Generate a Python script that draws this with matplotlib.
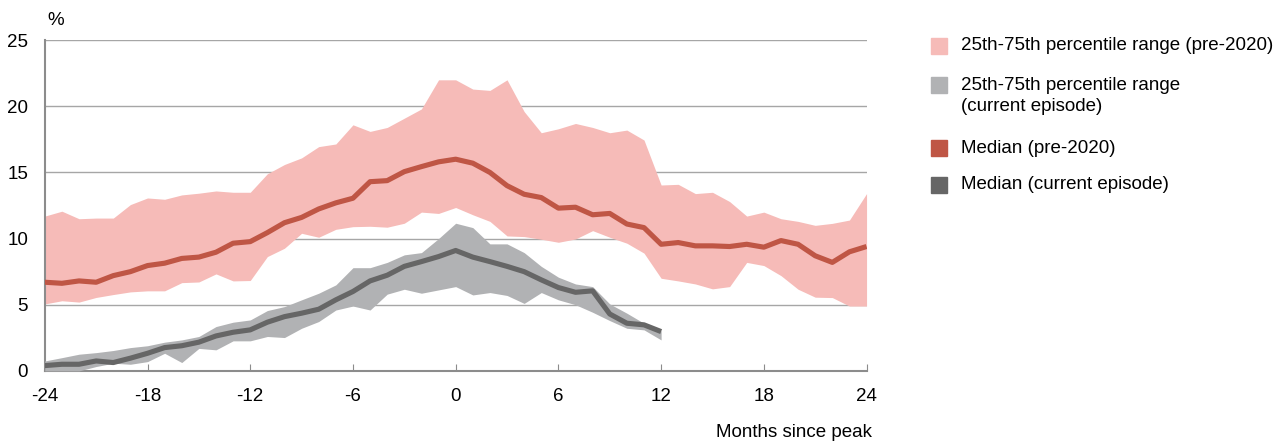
import matplotlib
matplotlib.use("Agg")
import matplotlib.pyplot as plt
from matplotlib.patches import Rectangle
import numpy as np

plt.rcParams['font.family'] = ['Liberation Sans', 'DejaVu Sans']
plt.rcParams['axes.unicode_minus'] = False

months = np.arange(-24, 25)
months_cur = np.arange(-24, 13)

# pre-2020 episodes: 25th / 75th percentile and median
pre_hi = [11.7, 12.07, 11.5, 11.55, 11.55, 12.57, 13.07, 12.97, 13.3, 13.43, 13.6, 13.5, 13.5,
          14.9, 15.6, 16.1, 16.95, 17.15, 18.6, 18.1, 18.4, 19.1, 19.8, 22.0, 22.0,
          21.3, 21.2, 22.0, 19.6, 18.0, 18.3, 18.7, 18.4, 18.0, 18.2, 17.45, 14.05,
          14.1, 13.4, 13.5, 12.8, 11.7, 12.0, 11.5, 11.3, 11.0, 11.15, 11.4, 13.4]
pre_lo = [5.06, 5.3, 5.2, 5.55, 5.77, 5.97, 6.05, 6.05, 6.67, 6.72, 7.33, 6.8, 6.83,
          8.64, 9.27, 10.4, 10.1, 10.7, 10.9, 10.93, 10.86, 11.16, 12.0, 11.9, 12.35,
          11.8, 11.3, 10.2, 10.15, 9.95, 9.72, 9.97, 10.6, 10.1, 9.65, 8.9, 7.0,
          6.8, 6.57, 6.2, 6.37, 8.2, 7.96, 7.2, 6.17, 5.57, 5.54, 4.9, 4.9]
pre_med = [6.7, 6.62, 6.8, 6.7, 7.2, 7.5, 7.96, 8.14, 8.5, 8.6, 8.97, 9.65, 9.77,
           10.45, 11.2, 11.6, 12.24, 12.7, 13.05, 14.3, 14.38, 15.06, 15.44, 15.8, 16.0,
           15.7, 15.0, 14.0, 13.35, 13.1, 12.3, 12.37, 11.8, 11.9, 11.1, 10.83, 9.57,
           9.7, 9.45, 9.45, 9.4, 9.57, 9.35, 9.85, 9.57, 8.7, 8.2, 9.0, 9.4]

# current episode
cur_hi = [0.75, 1.0, 1.26, 1.38, 1.54, 1.76, 1.9, 2.17, 2.34, 2.6, 3.35, 3.68, 3.85,
          4.56, 4.86, 5.37, 5.87, 6.5, 7.8, 7.8, 8.2, 8.77, 8.94, 10.0, 11.16,
          10.83, 9.6, 9.6, 8.94, 7.9, 7.08, 6.57, 6.37, 5.06, 4.36, 3.6, 3.02]
cur_lo = [0.0, 0.0, 0.0, 0.33, 0.58, 0.5, 0.7, 1.33, 0.63, 1.7, 1.59, 2.27, 2.27,
          2.6, 2.52, 3.22, 3.73, 4.6, 4.9, 4.6, 5.8, 6.17, 5.87, 6.12, 6.37,
          5.74, 5.92, 5.7, 5.1, 5.92, 5.37, 5.0, 4.43, 3.8, 3.22, 3.1, 2.34]
cur_med = [0.4, 0.5, 0.5, 0.75, 0.63, 0.96, 1.33, 1.76, 1.9, 2.17, 2.64, 2.92, 3.1,
           3.68, 4.1, 4.36, 4.66, 5.37, 6.0, 6.8, 7.23, 7.9, 8.26, 8.64, 9.1,
           8.6, 8.26, 7.9, 7.5, 6.88, 6.3, 5.94, 6.05, 4.3, 3.6, 3.48, 2.97]

pink = '#f6bbb8'
grey = '#b1b2b4'
red = '#bf5645'
dark = '#666666'
fs = 13.5

fig = plt.figure(figsize=(12.8, 4.41), dpi=100)
ax = fig.add_axes([0.035, 0.159, 0.642, 0.75])

ax.fill_between(months, pre_lo, pre_hi, color=pink, lw=0, zorder=2)
ax.fill_between(months_cur, cur_lo, cur_hi, color=grey, lw=0, zorder=3)
ax.plot(months, pre_med, color=red, lw=3.7, zorder=4, solid_capstyle='butt')
ax.plot(months_cur, cur_med, color=dark, lw=3.7, zorder=5, solid_capstyle='butt')

ax.set_xlim(-24, 24)
ax.set_ylim(0, 25)
ax.set_xticks(range(-24, 25, 6))
ax.set_yticks(range(0, 26, 5))
for y in range(5, 26, 5):
    ax.axhline(y, color='#a6a6a6', lw=1, zorder=1)

for s in ['top', 'right']:
    ax.spines[s].set_visible(False)
for s in ['left', 'bottom']:
    ax.spines[s].set_color('#8c8c8c')
    ax.spines[s].set_linewidth(1.5)
ax.tick_params(axis='x', direction='in', length=5, color='#8c8c8c', labelsize=fs, pad=12)
ax.tick_params(axis='y', length=0, labelsize=fs, pad=12)

fig.text(0.037, 0.953, '%', fontsize=fs, ha='left', va='center')
fig.text(0.681, 0.0, 'Months since peak', fontsize=fs, ha='right', va='bottom')

# legend drawn by hand
labels = ['25th-75th percentile range (pre-2020)',
          '25th-75th percentile range\n(current episode)',
          'Median (pre-2020)', 'Median (current episode)']
colors = [pink, grey, red, dark]
W, H = 1280, 441
sq_y = [46, 84.5, 148, 184.7]
txt_y = [46, 96, 148, 184.7]
for lab, c, sy, ty in zip(labels, colors, sq_y, txt_y):
    fig.patches.append(Rectangle((931 / W, 1 - (sy + 8) / H), 16 / W, 16 / H,
                                 transform=fig.transFigure, color=c))
    fig.text(961 / W, 1 - ty / H, lab, fontsize=fs, ha='left', va='center',
             linespacing=1.25)

fig.savefig('out.png', dpi=100)
